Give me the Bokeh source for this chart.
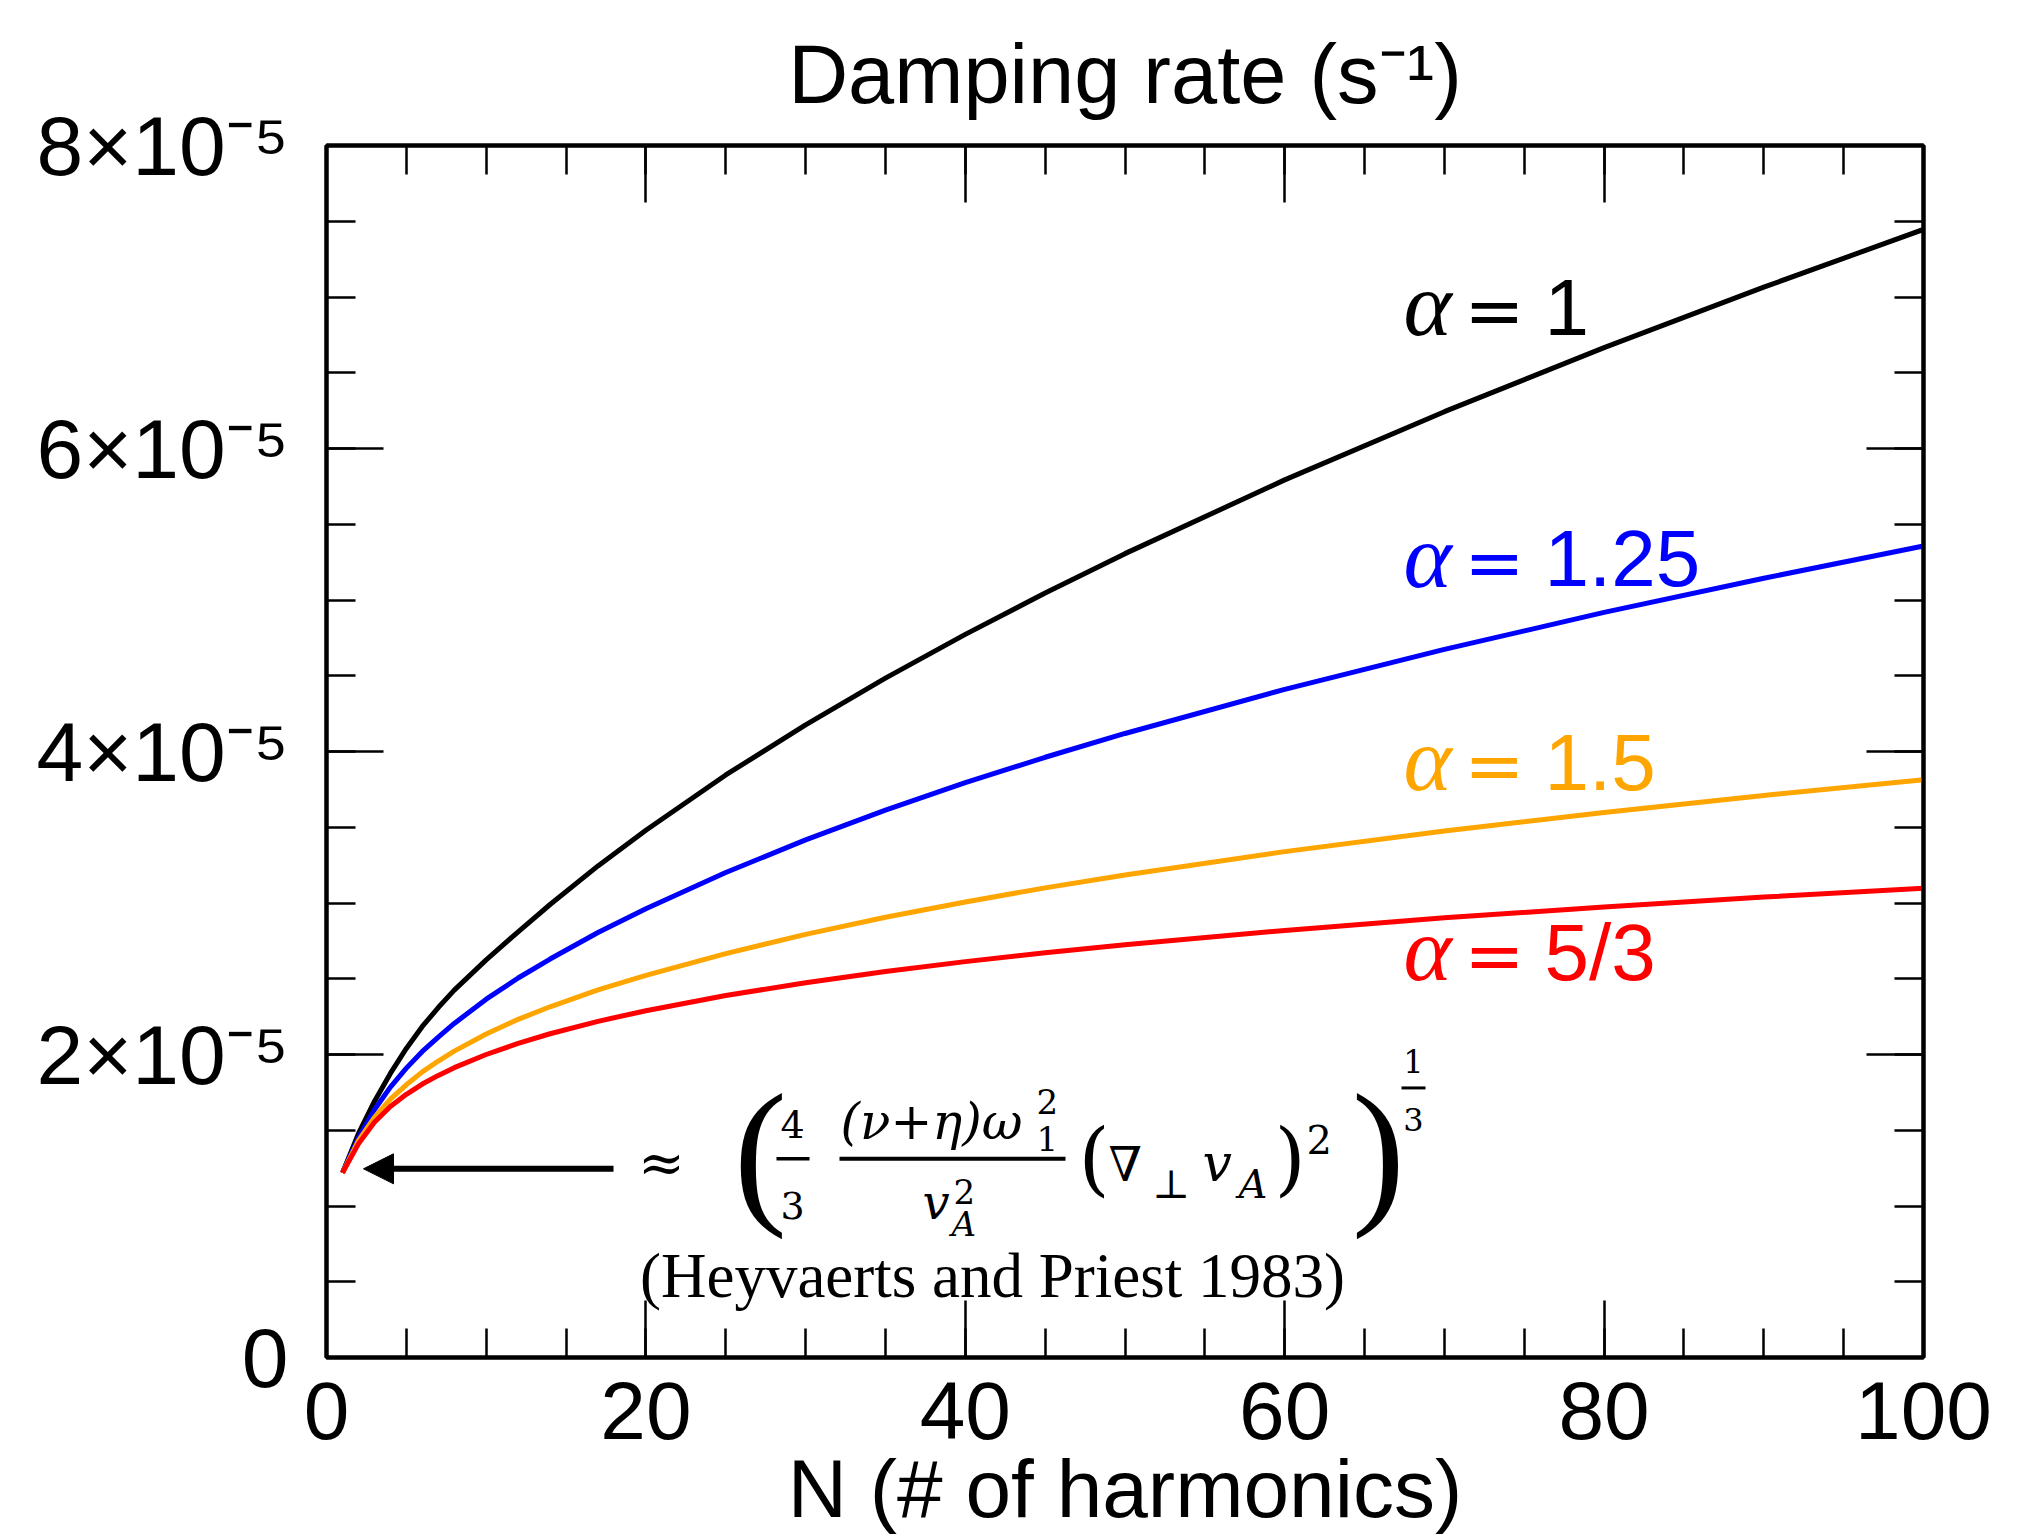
from bokeh.plotting import figure
from bokeh.models import LinearAxis, FixedTicker, Label, Arrow, NormalHead, Range1d
from bokeh.embed import file_html
from bokeh.resources import INLINE

# ---------------- data ----------------
SCALE = 1e-5  # values below are in units of 1e-5 s^-1
N = [1, 2, 3, 4, 5, 6, 7, 8, 10, 12, 14, 17, 20, 25, 30, 35, 40, 45, 50, 60, 70, 80, 90, 100]
rate_alpha_1 = [1.219, 1.478, 1.69, 1.875, 2.04, 2.185, 2.31, 2.425, 2.625, 2.81, 2.99, 3.245,
                3.48, 3.845, 4.176, 4.484, 4.773, 5.046, 5.306, 5.793, 6.243, 6.666, 7.065, 7.446]
rate_alpha_125 = [1.219, 1.45, 1.635, 1.785, 1.91, 2.02, 2.115, 2.205, 2.365, 2.505, 2.63, 2.805,
                  2.962, 3.201, 3.417, 3.613, 3.794, 3.962, 4.119, 4.41, 4.674, 4.918, 5.144, 5.356]
rate_alpha_15 = [1.219, 1.431, 1.585, 1.705, 1.80, 1.885, 1.957, 2.022, 2.135, 2.232, 2.315, 2.427,
                 2.522, 2.666, 2.793, 2.906, 3.007, 3.10, 3.185, 3.339, 3.475, 3.598, 3.71, 3.813]
rate_alpha_53 = [1.219, 1.41, 1.553, 1.657, 1.737, 1.805, 1.862, 1.913, 2.0, 2.073, 2.137, 2.219,
                 2.289, 2.389, 2.474, 2.548, 2.613, 2.672, 2.725, 2.819, 2.902, 2.974, 3.039, 3.098]

series_names = ["1", "1.25", "1.5", "5/3"]
series_values = [rate_alpha_1, rate_alpha_125, rate_alpha_15, rate_alpha_53]
series_colors = ["black", "#0000ff", "#ffa500", "#ff0000"]

X_MAJOR = [0, 20, 40, 60, 80, 100]
X_MINOR = list(range(0, 101, 5))
Y_MAJOR = [0, 2e-5, 4e-5, 6e-5, 8e-5]
Y_TICK_LABELS = ["0", "2×10⁻⁵", "4×10⁻⁵", "6×10⁻⁵", "8×10⁻⁵"]
Y_MINOR = [i * 0.5e-5 for i in range(17)]

TITLE = "Damping rate (s⁻¹)"
XLABEL = "N (# of harmonics)"

# ---------------- layout helpers (page pixels -> data) ----------------
FL, FR, FT, FB = 326, 1923, 143, 1357
def dx(px):
    return (px - FL) / (FR - FL) * 100.0
def dy(py):
    return (FB - py) / (FB - FT) * 8e-5

W, H = 2040, 1538
p = figure(width=W, height=H,
           x_range=Range1d(0, 100), y_range=Range1d(0, 8e-5),
           output_backend="svg", toolbar_location=None,
           x_axis_location=None, y_axis_location=None,
           min_border_left=FL, min_border_right=W - FR,
           min_border_top=FT, min_border_bottom=H - FB)
p.xgrid.visible = False
p.ygrid.visible = False
p.outline_line_color = "black"
p.outline_line_width = 4
p.background_fill_color = "white"
p.border_fill_color = "white"

def style_axis(ax):
    ax.axis_line_width = 4
    ax.axis_line_color = "black"
    ax.major_tick_in = 57
    ax.major_tick_out = 0
    ax.minor_tick_in = 29
    ax.minor_tick_out = 0
    ax.major_tick_line_width = 2.5
    ax.minor_tick_line_width = 2.5
    ax.major_tick_line_color = "black"
    ax.minor_tick_line_color = "black"
    ax.major_label_text_color = "black"
    ax.axis_label_text_color = "black"

xt = FixedTicker(ticks=X_MAJOR, minor_ticks=X_MINOR)
yt = FixedTicker(ticks=Y_MAJOR, minor_ticks=Y_MINOR)

xb = LinearAxis(ticker=xt, axis_label=XLABEL)
style_axis(xb)
xb.major_label_text_font = "Liberation Sans"
xb.major_label_text_font_size = "82px"
xb.major_label_standoff = 24
xb.axis_label_text_font = "Liberation Sans"
xb.axis_label_text_font_size = "82px"
xb.axis_label_text_font_style = "normal"
xb.axis_label_standoff = 1
p.add_layout(xb, "below")

yl = LinearAxis(ticker=yt, major_label_overrides=dict(zip(Y_MAJOR, Y_TICK_LABELS)))
style_axis(yl)
yl.major_label_text_font = "Liberation Sans"
yl.major_label_text_font_size = "84px"
yl.major_label_standoff = 38
p.add_layout(yl, "left")

xa = LinearAxis(ticker=xt, major_label_overrides={v: "" for v in X_MAJOR})
style_axis(xa)
xa.major_label_standoff = 0
p.add_layout(xa, "above")
yr = LinearAxis(ticker=yt, major_label_overrides={v: "" for v in Y_MAJOR})
style_axis(yr)
yr.major_label_standoff = 0
p.add_layout(yr, "right")

p.title.text = TITLE
p.title.align = "center"
p.title.text_color = "black"
p.title.text_font = "Liberation Sans"
p.title.text_font_size = "83px"
p.title.text_font_style = "normal"
p.title.standoff = 50

# ---------------- curves ----------------
for vals, col in zip(series_values, series_colors):
    p.line(N, [v * SCALE for v in vals], line_color=col, line_width=5)

# ---------------- curve labels (y = vertical middle of the text) ----------------
label_baselines = [333, 585, 789, 979]
for name, col, base in zip(series_names, series_colors, label_baselines):
    p.add_layout(Label(x=dx(1403), y=dy(base - 31), text="α", text_color=col,
                       text_font="Liberation Serif", text_font_style="italic",
                       text_font_size="92px", text_baseline="middle"))
    p.add_layout(Label(x=dx(1494), y=dy(base - 25), text="=", text_color=col,
                       text_font="DejaVu Sans", text_font_size="72px",
                       text_align="center", text_baseline="middle"))
    p.add_layout(Label(x=dx(1544), y=dy(base - 28), text=name, text_color=col,
                       text_font="Liberation Sans", text_font_size="80px",
                       text_baseline="middle"))

# ---------------- formula annotation ----------------
p.add_layout(Arrow(end=NormalHead(size=30, fill_color="black", line_color="black"),
                   x_start=dx(613), y_start=dy(1168), x_end=dx(363), y_end=dy(1168),
                   line_width=6, line_color="black"))

# (text, font, size, style, align, x_px, y_px of the text's vertical middle)
pieces = [
    ("≈", "DejaVu Serif", "56px", "normal", "center", 661, 1162),
    ("(", "Liberation Serif", "160px", "normal", "center", 760, 1150),
    ("4", "DejaVu Serif", "38px", "normal", "center", 792, 1124),
    ("3", "DejaVu Serif", "38px", "normal", "center", 792, 1205),
    ("(ν+η)ω", "DejaVu Serif", "50px", "italic", "left", 840, 1121),
    ("1", "DejaVu Serif", "34px", "normal", "left", 1036, 1138),
    ("2", "DejaVu Serif", "34px", "normal", "left", 1036, 1101),
    ("v", "DejaVu Serif", "48px", "italic", "left", 922, 1201),
    ("A", "DejaVu Serif", "34px", "italic", "left", 951, 1223),
    ("2", "DejaVu Serif", "34px", "normal", "left", 953, 1191),
    ("(", "DejaVu Serif", "80px", "normal", "left", 1078, 1158),
    ("∇", "DejaVu Serif", "48px", "normal", "left", 1108, 1163),
    ("⊥", "DejaVu Serif", "40px", "normal", "left", 1152, 1183),
    ("v", "DejaVu Serif", "52px", "italic", "left", 1202, 1162),
    ("A", "DejaVu Serif", "40px", "italic", "left", 1238, 1183),
    (")", "DejaVu Serif", "80px", "normal", "left", 1274, 1158),
    ("2", "DejaVu Serif", "40px", "normal", "left", 1306, 1139),
    (")", "Liberation Serif", "160px", "normal", "center", 1378, 1150),
    ("1", "DejaVu Serif", "32px", "normal", "center", 1413, 1061),
    ("3", "DejaVu Serif", "32px", "normal", "center", 1413, 1119),
    ("(Heyvaerts and Priest 1983)", "Liberation Serif", "63px", "normal", "center", 992, 1275),
]
for txt, font, size, style, align, px, py in pieces:
    p.add_layout(Label(x=dx(px), y=dy(py), text=txt, text_font=font,
                       text_font_size=size, text_font_style=style,
                       text_align=align, text_baseline="middle", text_color="black"))

bars = [(776, 809, 1158, 3.5), (839, 1065, 1158, 4), (1401, 1425, 1087, 3)]
for x0, x1, yb, w in bars:
    p.segment(x0=[dx(x0)], y0=[dy(yb)], x1=[dx(x1)], y1=[dy(yb)],
              line_color="black", line_width=w)

open("out.html", "w").write(file_html(p, INLINE))
